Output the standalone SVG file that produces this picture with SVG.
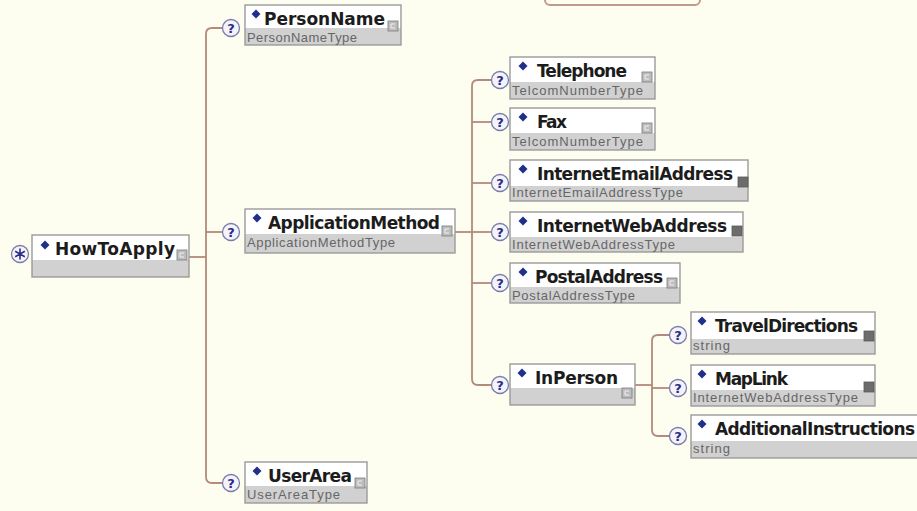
<svg xmlns="http://www.w3.org/2000/svg" xmlns:xlink="http://www.w3.org/1999/xlink" width="917" height="511" viewBox="0 0 917 511">
<style>
.bg{fill:#fdfdf0}
.box{fill:#d1d1d1}
.hdr{fill:#ffffff}
.frame{fill:none;stroke:#9a9a9a;stroke-width:1.4}
.name{font-family:"DejaVu Sans","Liberation Sans",sans-serif;font-weight:bold;font-size:17px;fill:#1c1c1c}
.type{font-family:"Liberation Sans","DejaVu Sans",sans-serif;font-size:13px;fill:#666666}
.dia{fill:#1f2f8a}
.occ{fill:#f3f3fc;stroke:#7c7cab;stroke-width:1.3}
.q{font-family:"DejaVu Sans","Liberation Sans",sans-serif;font-weight:bold;font-size:13px;fill:#2b2b85;text-anchor:middle}
.icl{fill:#bdbdbd;stroke:#7a7a7a;stroke-width:0.8}
.icd{fill:#6c6c6c;stroke:#5a5a5a;stroke-width:0.8}
.icm{fill:none;stroke:#f0f0f0;stroke-width:1}
.conn path{fill:none;stroke:#b38a7c;stroke-width:1.8}
</style>
<defs>
<path id="dia" class="dia" d="M0,-4.5 L4.5,0 L0,4.5 L-4.5,0 Z"/>
<g id="icl"><rect class="icl" x="0" y="0" width="10" height="10"/><path class="icm" d="M7,3 H3 V7 H7"/></g>
<rect id="icd" class="icd" x="0" y="0" width="10" height="10"/>
</defs>
<rect class="bg" x="0" y="0" width="917" height="511"/>
<rect x="545" y="-12" width="155" height="17" rx="5" fill="none" stroke="#c29a8c" stroke-width="2"/>

<g class="conn" id="connectors">
<path d="M222,28 H212 Q206,28 206,34 V477 Q206,483 212,483 H222"/>
<path d="M206,232 H222"/>
<path d="M189,257 H206"/>
<path d="M491,80 H478 Q472,80 472,86 V379 Q472,385 478,385 H491"/>
<path d="M455,232 H472"/>
<path d="M472,122 H491"/>
<path d="M472,183 H491"/>
<path d="M472,232 H491"/>
<path d="M472,283 H491"/>
<path d="M669,335 H658 Q652,335 652,341 V430 Q652,436 658,436 H669"/>
<path d="M635,385 H652"/>
<path d="M652,388 H669"/>
</g>

<g id="n-HowToApply">
<rect class="box" x="32" y="235" width="157" height="42"/>
<rect class="hdr" x="32" y="235" width="157" height="25"/>
<rect class="frame" x="32" y="235" width="157" height="42"/>
<use xlink:href="#dia" x="45" y="245"/>
<text class="name" x="55" y="255" textLength="120">HowToApply</text>
<use xlink:href="#icl" x="177" y="250"/>
<circle class="occ" cx="20" cy="254" r="8.5"/>
<path d="M20,248.5 V259.5 M15.2,251.2 L24.8,256.8 M15.2,256.8 L24.8,251.2" stroke="#2b2b85" stroke-width="1.6"/>
</g>

<g id="n-PersonName">
<rect class="box" x="245" y="5" width="156" height="40"/>
<rect class="hdr" x="245" y="5" width="156" height="23"/>
<rect class="frame" x="245" y="5" width="156" height="40"/>
<use xlink:href="#dia" x="256" y="14"/>
<text class="name" x="264" y="25" textLength="121">PersonName</text>
<text class="type" x="247" y="42" textLength="110">PersonNameType</text>
<use xlink:href="#icl" x="388" y="21"/>
<circle class="occ" cx="231" cy="28" r="8.5"/>
<text class="q" x="231" y="32.5">?</text>
</g>

<g id="n-ApplicationMethod">
<rect class="box" x="245" y="209" width="210" height="44"/>
<rect class="hdr" x="245" y="209" width="210" height="25"/>
<rect class="frame" x="245" y="209" width="210" height="44"/>
<use xlink:href="#dia" x="257" y="218"/>
<text class="name" x="268" y="229" textLength="172">ApplicationMethod</text>
<text class="type" x="247" y="247" textLength="148">ApplicationMethodType</text>
<use xlink:href="#icl" x="442" y="226"/>
<circle class="occ" cx="231" cy="232" r="8.5"/>
<text class="q" x="231" y="236.5">?</text>
</g>

<g id="n-UserArea">
<rect class="box" x="245" y="462" width="122" height="41"/>
<rect class="hdr" x="245" y="462" width="122" height="24"/>
<rect class="frame" x="245" y="462" width="122" height="41"/>
<use xlink:href="#dia" x="257" y="471"/>
<text class="name" x="268" y="482" textLength="84">UserArea</text>
<text class="type" x="247" y="499" textLength="93">UserAreaType</text>
<use xlink:href="#icl" x="355" y="478"/>
<circle class="occ" cx="231" cy="483" r="8.5"/>
<text class="q" x="231" y="487.5">?</text>
</g>

<g id="n-Telephone">
<rect class="box" x="510" y="57" width="145" height="42"/>
<rect class="hdr" x="510" y="57" width="145" height="25"/>
<rect class="frame" x="510" y="57" width="145" height="42"/>
<use xlink:href="#dia" x="523" y="66"/>
<text class="name" x="537" y="77" textLength="90">Telephone</text>
<text class="type" x="512" y="95" textLength="131">TelcomNumberType</text>
<use xlink:href="#icl" x="642" y="72"/>
<circle class="occ" cx="500" cy="80" r="8.5"/>
<text class="q" x="500" y="84.5">?</text>
</g>

<g id="n-Fax">
<rect class="box" x="510" y="108" width="145" height="42"/>
<rect class="hdr" x="510" y="108" width="145" height="25"/>
<rect class="frame" x="510" y="108" width="145" height="42"/>
<use xlink:href="#dia" x="523" y="117"/>
<text class="name" x="537" y="128" textLength="30">Fax</text>
<text class="type" x="512" y="146" textLength="131">TelcomNumberType</text>
<use xlink:href="#icl" x="642" y="123"/>
<circle class="occ" cx="500" cy="122" r="8.5"/>
<text class="q" x="500" y="126.5">?</text>
</g>

<g id="n-InternetEmailAddress">
<rect class="box" x="510" y="160" width="238" height="41"/>
<rect class="hdr" x="510" y="160" width="238" height="26"/>
<rect class="frame" x="510" y="160" width="238" height="41"/>
<use xlink:href="#dia" x="523" y="169"/>
<text class="name" x="537" y="180" textLength="196">InternetEmailAddress</text>
<text class="type" x="512" y="197" textLength="171">InternetEmailAddressType</text>
<use xlink:href="#icd" x="738" y="177"/>
<circle class="occ" cx="500" cy="183" r="8.5"/>
<text class="q" x="500" y="187.5">?</text>
</g>

<g id="n-InternetWebAddress">
<rect class="box" x="510" y="212" width="233" height="40"/>
<rect class="hdr" x="510" y="212" width="233" height="25"/>
<rect class="frame" x="510" y="212" width="233" height="40"/>
<use xlink:href="#dia" x="523" y="221"/>
<text class="name" x="537" y="232" textLength="190">InternetWebAddress</text>
<text class="type" x="512" y="249" textLength="163">InternetWebAddressType</text>
<use xlink:href="#icd" x="732" y="226"/>
<circle class="occ" cx="500" cy="232" r="8.5"/>
<text class="q" x="500" y="236.5">?</text>
</g>

<g id="n-PostalAddress">
<rect class="box" x="510" y="263" width="170" height="40"/>
<rect class="hdr" x="510" y="263" width="170" height="24"/>
<rect class="frame" x="510" y="263" width="170" height="40"/>
<use xlink:href="#dia" x="523" y="272"/>
<text class="name" x="535" y="283" textLength="128">PostalAddress</text>
<text class="type" x="512" y="300" textLength="123">PostalAddressType</text>
<use xlink:href="#icl" x="667" y="278"/>
<circle class="occ" cx="500" cy="283" r="8.5"/>
<text class="q" x="500" y="287.5">?</text>
</g>

<g id="n-InPerson">
<rect class="box" x="510" y="364" width="125" height="41"/>
<rect class="hdr" x="510" y="364" width="125" height="24"/>
<rect class="frame" x="510" y="364" width="125" height="41"/>
<use xlink:href="#dia" x="522" y="373"/>
<text class="name" x="535" y="384" textLength="83">InPerson</text>
<use xlink:href="#icl" x="622" y="388"/>
<circle class="occ" cx="500" cy="385" r="8.5"/>
<text class="q" x="500" y="389.5">?</text>
</g>

<g id="n-TravelDirections">
<rect class="box" x="691" y="312" width="184" height="42"/>
<rect class="hdr" x="691" y="312" width="184" height="27"/>
<rect class="frame" x="691" y="312" width="184" height="42"/>
<use xlink:href="#dia" x="702" y="321"/>
<text class="name" x="715" y="332" textLength="143">TravelDirections</text>
<text class="type" x="693" y="350" textLength="37">string</text>
<use xlink:href="#icd" x="864" y="331"/>
<circle class="occ" cx="678" cy="335" r="8.5"/>
<text class="q" x="678" y="339.5">?</text>
</g>

<g id="n-MapLink">
<rect class="box" x="691" y="365" width="184" height="41"/>
<rect class="hdr" x="691" y="365" width="184" height="25"/>
<rect class="frame" x="691" y="365" width="184" height="41"/>
<use xlink:href="#dia" x="702" y="374"/>
<text class="name" x="715" y="385" textLength="73">MapLink</text>
<text class="type" x="693" y="402" textLength="165">InternetWebAddressType</text>
<use xlink:href="#icd" x="864" y="382"/>
<circle class="occ" cx="678" cy="388" r="8.5"/>
<text class="q" x="678" y="392.5">?</text>
</g>

<g id="n-AdditionalInstructions">
<rect class="box" x="691" y="415" width="240" height="43"/>
<rect class="hdr" x="691" y="415" width="240" height="26"/>
<rect class="frame" x="691" y="415" width="240" height="43"/>
<use xlink:href="#dia" x="702" y="424"/>
<text class="name" x="715" y="435" textLength="200">AdditionalInstructions</text>
<text class="type" x="693" y="453" textLength="37">string</text>
<circle class="occ" cx="678" cy="436" r="8.5"/>
<text class="q" x="678" y="440.5">?</text>
</g>
</svg>
